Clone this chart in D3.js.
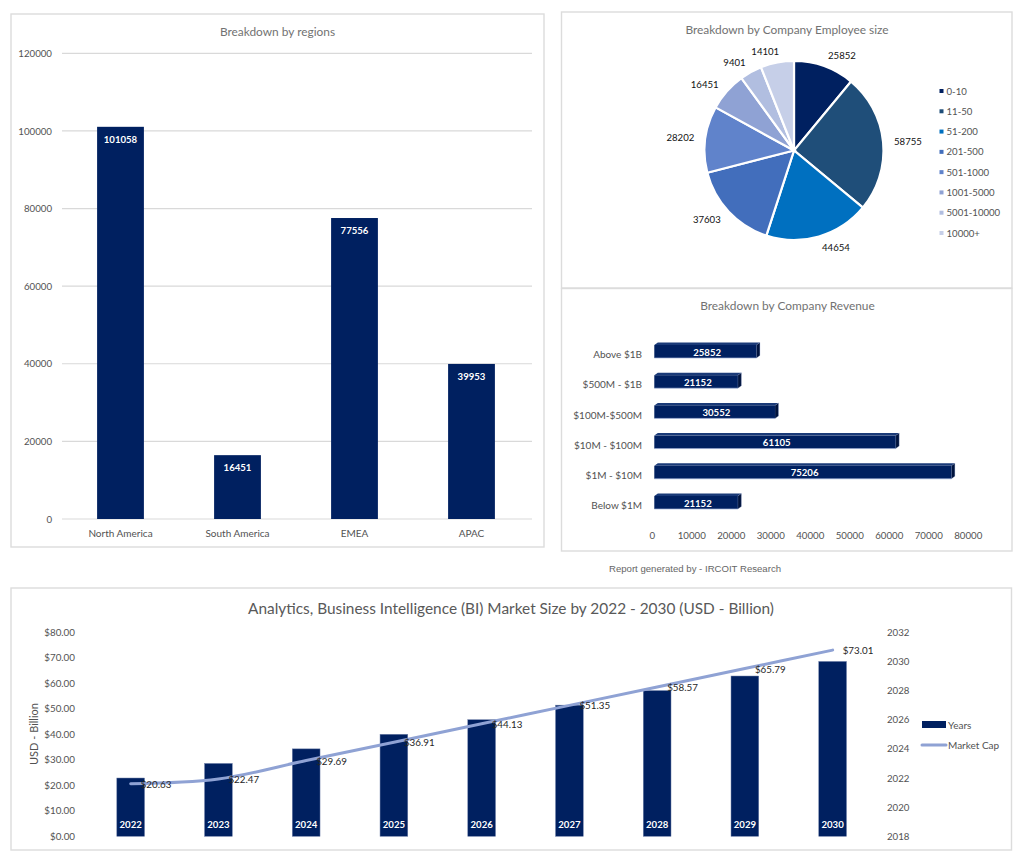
<!DOCTYPE html>
<html>
<head>
<meta charset="utf-8">
<script src="https://cdn.jsdelivr.net/npm/d3@7/dist/d3.min.js"></script>
<style>
html,body{margin:0;padding:0;background:#fff;}
svg{display:block;}
text{font-family:Lato,"Open Sans",sans-serif;}
.tick line{display:none;}
</style>
</head>
<body>
<div id="chart"></div>
<script>
const regionNames = ["North America","South America","EMEA","APAC"];
const regionValues = [101058,16451,77556,39953];
const regionTicks = [0,20000,40000,60000,80000,100000,120000];

const employeeSizes = ["0-10","11-50","51-200","201-500","501-1000","1001-5000","5001-10000","10000+"];
const employeeValues = [25852,58755,44654,37603,28202,16451,9401,14101];
const employeeColors = ["#002060","#1F4E79","#0070C0","#426EBC","#6083CB","#8FA2D4","#B1BEE0","#C6CFE8"];

const revenueNames = ["Above $1B","$500M - $1B","$100M-$500M","$10M - $100M","$1M - $10M","Below $1M"];
const revenueValues = [25852,21152,30552,61105,75206,21152];
const revenueTicks = [0,10000,20000,30000,40000,50000,60000,70000,80000];

const years = [2022,2023,2024,2025,2026,2027,2028,2029,2030];
const marketCap = [20.63,22.47,29.69,36.91,44.13,51.35,58.57,65.79,73.01];
const usdTicks = [0,10,20,30,40,50,60,70,80];
const yearTicks = [2018,2020,2022,2024,2026,2028,2030,2032];

const NAVY="#002060", GREY="#525252", TITLE="#727272", BORDER="#dcdcdc", GRID="#d9d9d9";
const svg=d3.select("#chart").append("svg").attr("width",1025).attr("height",861);

function panel(x,y,w,h){
  svg.append("rect").attr("x",x).attr("y",y).attr("width",w).attr("height",h)
    .attr("fill","#fff").attr("stroke",BORDER).attr("stroke-width",1.4);
}
function title(txt,x,y,size,color){
  svg.append("text").attr("x",x).attr("y",y).attr("text-anchor","middle")
    .attr("dominant-baseline","central").attr("font-size",size).attr("fill",color).text(txt);
}
function styleAxis(g,size){
  g.select(".domain").remove();
  g.selectAll("text").attr("font-size",size).attr("fill",GREY);
}

panel(11,14,533,533);
panel(561.5,12,450.5,276);
panel(561.5,288.5,450.5,262.5);
panel(11,588,1000.5,262);

/* Regions */
(function(){
  title("Breakdown by regions",277.5,31,11.9,TITLE);
  const x=d3.scaleBand().domain(regionNames).range([62,530]).paddingInner(0.6).paddingOuter(0.3);
  const y=d3.scaleLinear().domain([0,120000]).range([519,53.3]);
  svg.append("g").selectAll("line").data(regionTicks).join("line")
    .attr("x1",62).attr("x2",532).attr("y1",d=>y(d)).attr("y2",d=>y(d))
    .attr("stroke",GRID).attr("stroke-width",1.2);
  const ya=svg.append("g").attr("transform","translate(57,0)")
    .call(d3.axisLeft(y).tickValues(regionTicks).tickSize(0).tickPadding(5).tickFormat(d3.format("d")));
  styleAxis(ya,9.7);
  svg.append("g").selectAll("rect").data(regionValues).join("rect")
    .attr("x",(d,i)=>x(regionNames[i])).attr("width",x.bandwidth())
    .attr("y",d=>y(d)).attr("height",d=>y(0)-y(d)).attr("fill",NAVY);
  svg.append("g").selectAll("text").data(regionValues).join("text")
    .attr("x",(d,i)=>x(regionNames[i])+x.bandwidth()/2).attr("y",d=>y(d)+12.5)
    .attr("text-anchor","middle").attr("dominant-baseline","central")
    .attr("font-size",9.6).attr("font-weight",700).attr("fill","#fff").text(d=>d);
  const xa=svg.append("g").attr("transform","translate(0,533)")
    .call(d3.axisBottom(x).tickSize(0).tickPadding(0));
  styleAxis(xa,10);
  xa.selectAll("text").attr("dy",0).attr("dominant-baseline","central");
})();

/* Employee size pie */
(function(){
  title("Breakdown by Company Employee size",787,29,11.9,TITLE);
  const cx=794, cy=150.5, r=89.5, labelR=100.5;
  const pie=d3.pie().sort(null)(employeeValues);
  const arc=d3.arc().innerRadius(0).outerRadius(r);
  const g=svg.append("g").attr("transform",`translate(${cx},${cy})`);
  g.selectAll("path").data(pie).join("path").attr("d",arc)
    .attr("fill",(d,i)=>employeeColors[i]).attr("stroke","#fff").attr("stroke-width",2.2);
  const labelArc=d3.arc().innerRadius(labelR).outerRadius(labelR);
  const mid=d=>(d.startAngle+d.endAngle)/2;
  g.selectAll("text").data(pie).join("text")
    .attr("transform",d=>{const c=labelArc.centroid(d);return `translate(${c[0]},${c[1]})`;})
    .attr("text-anchor",d=>mid(d)<Math.PI?"start":"end")
    .attr("dx",d=>(mid(d)>Math.PI&&Math.abs(Math.sin(mid(d)))<0.2)?4:0)
    .attr("dominant-baseline","central")
    .attr("font-size",9.6).attr("fill","#111").text(d=>d.value);
  const ly=d3.scalePoint().domain(employeeSizes).range([91,233]);
  const lg=svg.append("g");
  lg.selectAll("rect").data(employeeSizes).join("rect")
    .attr("x",939.5).attr("y",d=>ly(d)-2).attr("width",4).attr("height",4)
    .attr("fill",(d,i)=>employeeColors[i]);
  lg.selectAll("text").data(employeeSizes).join("text")
    .attr("x",946.5).attr("y",d=>ly(d)).attr("dominant-baseline","central")
    .attr("font-size",9.6).attr("fill",GREY).text(d=>d);
})();

/* Revenue 3D bars */
(function(){
  title("Breakdown by Company Revenue",787.5,305.5,11.9,TITLE);
  const x=d3.scaleLinear().domain([0,80000]).range([654.3,970.3]);
  const y=d3.scaleBand().domain(revenueNames).range([336.4,517.6]).paddingInner(0.57).paddingOuter(0.285);
  const h=y.bandwidth(), dx=3.5, dy=2.5;
  const bars=svg.append("g");
  revenueValues.forEach((v,i)=>{
    const top=y(revenueNames[i]), x0=x(0), x1=x(v), b=top+h;
    bars.append("path")
      .attr("d",d3.line()([[x0,top],[x0+dx,top-dy],[x1+dx,top-dy],[x1,top]])+"Z")
      .attr("fill","#1a3a78");
    bars.append("path")
      .attr("d",d3.line()([[x1,top],[x1+dx,top-dy],[x1+dx,b-dy],[x1,b]])+"Z")
      .attr("fill","#00133d").attr("stroke","#8fa2d4").attr("stroke-width",0.3);
    bars.append("rect").attr("x",x0).attr("y",top).attr("width",x1-x0).attr("height",h)
      .attr("fill",NAVY);
    bars.append("line").attr("x1",x0).attr("x2",x1).attr("y1",b).attr("y2",b)
      .attr("stroke","#9fb0d8").attr("stroke-width",0.7);
    bars.append("text").attr("x",(x0+x1+dx)/2).attr("y",top+h/2+0.5)
      .attr("text-anchor","middle").attr("dominant-baseline","central")
      .attr("font-size",9.6).attr("font-weight",700).attr("fill","#fff").text(v);
  });
  const ya=svg.append("g").attr("transform","translate(642,3.5)")
    .call(d3.axisLeft(y).tickSize(0).tickPadding(0));
  styleAxis(ya,10);
  const xa=svg.append("g").attr("transform","translate(-2.5,534.5)")
    .call(d3.axisBottom(x).tickValues(revenueTicks).tickSize(0).tickPadding(0).tickFormat(d3.format("d")));
  styleAxis(xa,9.7);
  xa.selectAll("text").attr("dy",0).attr("dominant-baseline","central");
})();

svg.append("text").attr("x",695).attr("y",568).attr("text-anchor","middle")
  .attr("dominant-baseline","central").attr("font-size",9.6).attr("fill","#666")
  .style("font-family","'Liberation Sans',sans-serif").text("Report generated by - IRCOIT Research");

/* Market size */
(function(){
  title("Analytics, Business Intelligence (BI) Market Size by 2022 - 2030 (USD - Billion)",511,607.5,15.4,"#595959");
  const x=d3.scaleBand().domain(years).range([86.8,876.5]).paddingInner(0.684).paddingOuter(0.342);
  const yL=d3.scaleLinear().domain([0,80]).range([836.3,632.3]);
  const yR=d3.scaleLinear().domain([2018,2032]).range([836.3,632.3]);
  const cxOf=d=>x(d)+x.bandwidth()/2;
  const la=svg.append("g").attr("transform","translate(75,0)")
    .call(d3.axisLeft(yL).tickValues(usdTicks).tickSize(0).tickPadding(0).tickFormat(d=>"$"+d3.format(".2f")(d)));
  styleAxis(la,9.8);
  const ra=svg.append("g").attr("transform","translate(887,0)")
    .call(d3.axisRight(yR).tickValues(yearTicks).tickSize(0).tickPadding(0).tickFormat(d3.format("d")));
  styleAxis(ra,9.7);
  svg.append("text").attr("transform","translate(33.5,734) rotate(-90)")
    .attr("text-anchor","middle").attr("dominant-baseline","central")
    .attr("font-size",11).attr("fill",GREY).text("USD - Billion");
  svg.append("g").selectAll("rect").data(years).join("rect")
    .attr("x",d=>x(d)).attr("width",x.bandwidth()).attr("y",d=>yR(d)).attr("height",d=>yR(2018)-yR(d))
    .attr("fill",NAVY).attr("stroke","#6d7fa8").attr("stroke-width",0.5);
  svg.append("g").selectAll("text").data(years).join("text")
    .attr("x",cxOf).attr("y",824.5).attr("text-anchor","middle").attr("dominant-baseline","central")
    .attr("font-size",9.6).attr("font-weight",700).attr("fill","#fff").text(d=>d);
  const line=d3.line().x((d,i)=>cxOf(years[i])).y(d=>yL(d)).curve(d3.curveCatmullRom.alpha(0.5));
  svg.append("path").datum(marketCap).attr("d",line).attr("fill","none")
    .attr("stroke","#8FA2D4").attr("stroke-width",3).attr("stroke-linecap","round");
  svg.append("g").selectAll("text").data(marketCap).join("text")
    .attr("x",(d,i)=>cxOf(years[i])+10).attr("y",d=>yL(d)).attr("dominant-baseline","central")
    .attr("font-size",9.8).attr("fill","#262626").text(d=>"$"+d3.format(".2f")(d));
  svg.append("rect").attr("x",922).attr("y",721).attr("width",24).attr("height",7).attr("fill",NAVY);
  svg.append("line").attr("x1",922).attr("x2",946).attr("y1",745).attr("y2",745)
    .attr("stroke","#8FA2D4").attr("stroke-width",3).attr("stroke-linecap","round");
  svg.append("text").attr("x",948).attr("y",724.5).attr("dominant-baseline","central")
    .attr("font-size",10).attr("fill",GREY).text("Years");
  svg.append("text").attr("x",948).attr("y",744.5).attr("dominant-baseline","central")
    .attr("font-size",10).attr("fill",GREY).text("Market Cap");
})();
</script>
</body>
</html>
